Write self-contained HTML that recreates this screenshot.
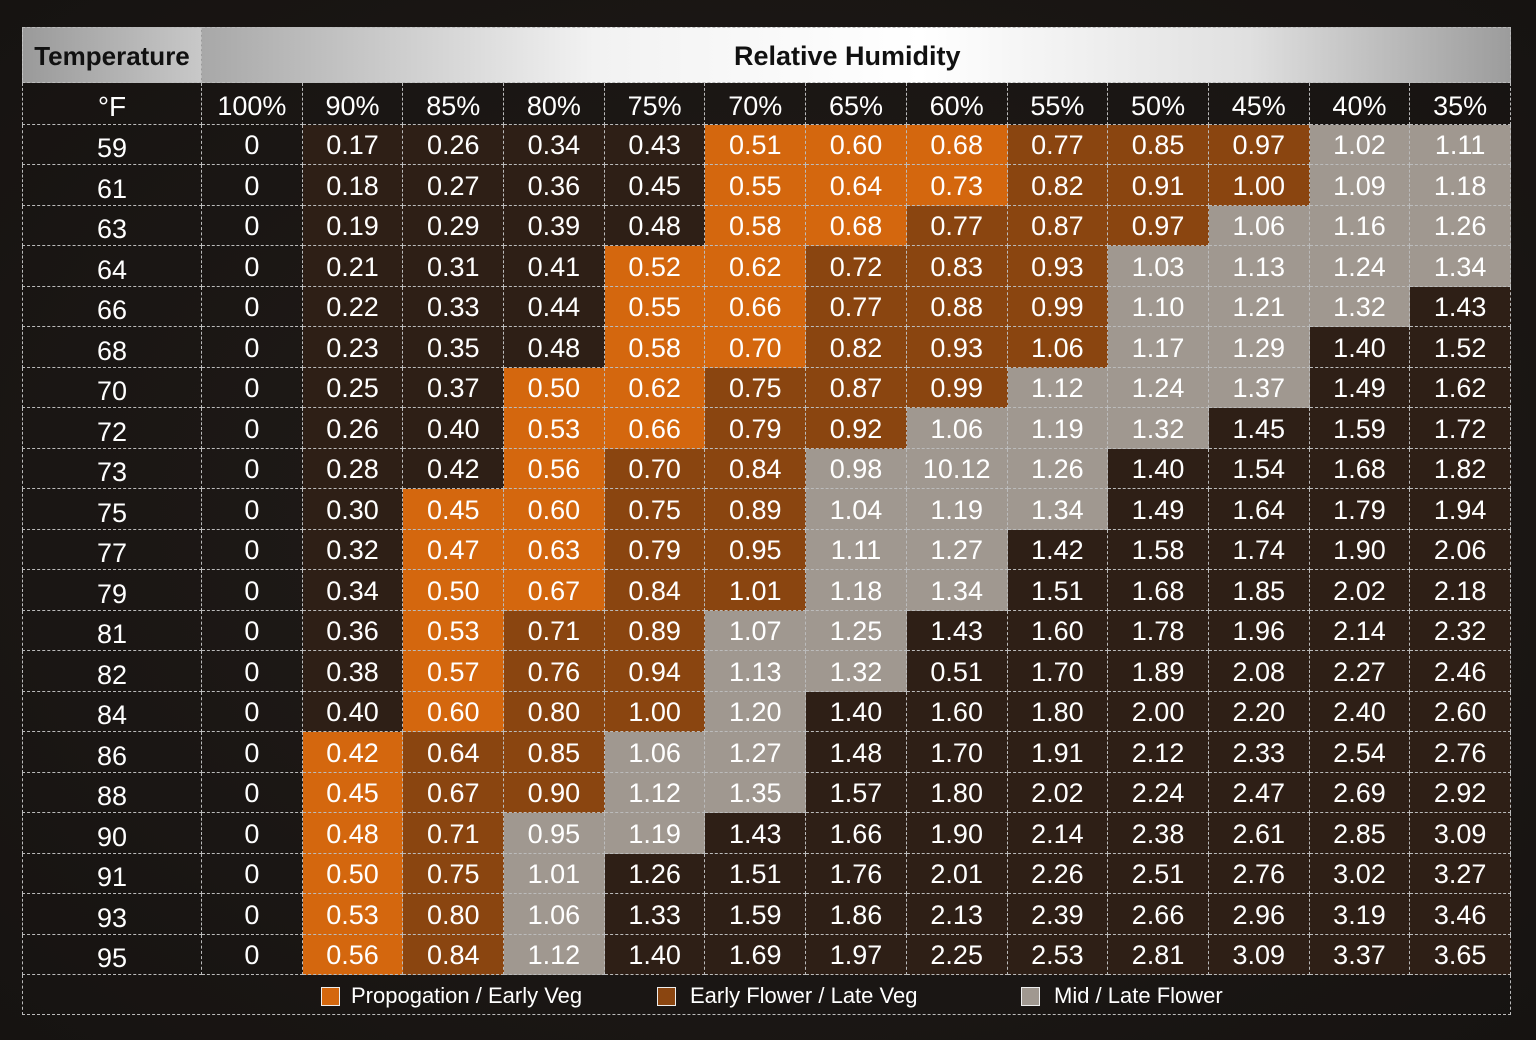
<!DOCTYPE html>
<html><head><meta charset="utf-8"><style>
body{margin:0;width:1536px;height:1040px;background:#1b1715;overflow:hidden;font-family:"Liberation Sans",sans-serif}
#wrap{position:absolute;left:0;top:0;width:1536px;height:1040px;background:radial-gradient(ellipse at 50% 50%,#221c19 0%,#161311 100%)}
.c{position:absolute;box-sizing:border-box;color:#fff;font-size:27px;display:flex;align-items:center;justify-content:center;border-right:1px dashed #bbb;border-bottom:1px dashed #bbb;padding-top:3px}
</style></head><body>
<div id="wrap">
<div class="c" style="left:22px;top:27px;width:180px;height:56px;background:linear-gradient(90deg,#9a9a9a,#c8c8c8);color:#111;font-weight:bold;font-size:26px;border-top:1px dashed #bbb;border-left:1px dashed #bbb">Temperature</div>
<div class="c" style="left:202px;top:27px;width:1309px;height:56px;background:linear-gradient(90deg,#a8a8a8 0%,#f2f2f2 30%,#ffffff 55%,#e0e0e0 80%,#9c9c9c 100%);color:#111;font-weight:bold;font-size:27px;border-top:1px dashed #bbb;padding-left:0;justify-content:flex-start"><span style="position:absolute;left:532px">Relative Humidity</span></div>
<div class="c" style="left:22px;top:975px;width:1489px;height:40px;border-left:1px dashed #bbb;justify-content:flex-start">
<span style="position:absolute;left:298px;font-size:22px;display:flex;align-items:center"><i style="display:inline-block;width:17px;height:17px;background:#d4670e;border:1px solid #eee;margin-right:11px"></i>Propogation / Early Veg</span>
<span style="position:absolute;left:634px;font-size:22px;display:flex;align-items:center"><i style="display:inline-block;width:17px;height:17px;background:#8a4510;border:1px solid #eee;margin-right:14px"></i>Early Flower / Late Veg</span>
<span style="position:absolute;left:998px;font-size:22px;display:flex;align-items:center"><i style="display:inline-block;width:17px;height:17px;background:#a09890;border:1px solid #eee;margin-right:14px"></i>Mid / Late Flower</span>
</div>
</div>
<script>
const humidity=["100%","90%","85%","80%","75%","70%","65%","60%","55%","50%","45%","40%","35%"];
const temps=["59","61","63","64","66","68","70","72","73","75","77","79","81","82","84","86","88","90","91","93","95"];
const values=[
["0","0.17","0.26","0.34","0.43","0.51","0.60","0.68","0.77","0.85","0.97","1.02","1.11"],
["0","0.18","0.27","0.36","0.45","0.55","0.64","0.73","0.82","0.91","1.00","1.09","1.18"],
["0","0.19","0.29","0.39","0.48","0.58","0.68","0.77","0.87","0.97","1.06","1.16","1.26"],
["0","0.21","0.31","0.41","0.52","0.62","0.72","0.83","0.93","1.03","1.13","1.24","1.34"],
["0","0.22","0.33","0.44","0.55","0.66","0.77","0.88","0.99","1.10","1.21","1.32","1.43"],
["0","0.23","0.35","0.48","0.58","0.70","0.82","0.93","1.06","1.17","1.29","1.40","1.52"],
["0","0.25","0.37","0.50","0.62","0.75","0.87","0.99","1.12","1.24","1.37","1.49","1.62"],
["0","0.26","0.40","0.53","0.66","0.79","0.92","1.06","1.19","1.32","1.45","1.59","1.72"],
["0","0.28","0.42","0.56","0.70","0.84","0.98","10.12","1.26","1.40","1.54","1.68","1.82"],
["0","0.30","0.45","0.60","0.75","0.89","1.04","1.19","1.34","1.49","1.64","1.79","1.94"],
["0","0.32","0.47","0.63","0.79","0.95","1.11","1.27","1.42","1.58","1.74","1.90","2.06"],
["0","0.34","0.50","0.67","0.84","1.01","1.18","1.34","1.51","1.68","1.85","2.02","2.18"],
["0","0.36","0.53","0.71","0.89","1.07","1.25","1.43","1.60","1.78","1.96","2.14","2.32"],
["0","0.38","0.57","0.76","0.94","1.13","1.32","0.51","1.70","1.89","2.08","2.27","2.46"],
["0","0.40","0.60","0.80","1.00","1.20","1.40","1.60","1.80","2.00","2.20","2.40","2.60"],
["0","0.42","0.64","0.85","1.06","1.27","1.48","1.70","1.91","2.12","2.33","2.54","2.76"],
["0","0.45","0.67","0.90","1.12","1.35","1.57","1.80","2.02","2.24","2.47","2.69","2.92"],
["0","0.48","0.71","0.95","1.19","1.43","1.66","1.90","2.14","2.38","2.61","2.85","3.09"],
["0","0.50","0.75","1.01","1.26","1.51","1.76","2.01","2.26","2.51","2.76","3.02","3.27"],
["0","0.53","0.80","1.06","1.33","1.59","1.86","2.13","2.39","2.66","2.96","3.19","3.46"],
["0","0.56","0.84","1.12","1.40","1.69","1.97","2.25","2.53","2.81","3.09","3.37","3.65"]];
const stages=["nddddooobbbgg","nddddooobbbgg","nddddoobbbggg","ndddoobbbgggg","ndddoobbbgggd","ndddoobbbggdd","nddoobbbgggdd","nddoobbgggddd","nddobbgggdddd","ndoobbgggdddd","ndoobbggddddd","ndoobbggddddd","ndobbggdddddd","ndobbggdddddd","ndobbgddddddd","nobbggddddddd","nobbggddddddd","nobggdddddddd","nobgddddddddd","nobgddddddddd","nobgddddddddd"];
const colors={n:"transparent",d:"#2e1f16",o:"#d4670e",b:"#8a4510",g:"#a09890"};
const W=document.getElementById('wrap');
const x0=202,cw=(1511-202)/13,yH=83,hh=41.5,y0=124.5,rh=(975-124.5)/21;
function colX(i){return x0+i*cw;}
function rowY(j){return y0+j*rh;}
function cell(x,y,w,h,txt,bg,extra){const d=document.createElement('div');d.className='c';d.style.cssText=`left:${x}px;top:${y}px;width:${w}px;height:${h}px;background:${bg};${extra||''}`;d.textContent=txt;W.appendChild(d);return d;}
let e=cell(22,yH,180,hh,"°F","transparent","border-left:1px dashed #bbb;font-size:28px;padding-top:8px");


humidity.forEach((h,i)=>{const d=cell(colX(i),yH,cw,hh,h,"transparent","font-size:27px;padding-top:6px");

});
temps.forEach((t,j)=>{const d=cell(22,rowY(j),180,rh,t,"transparent","border-left:1px dashed #bbb;padding-top:9px");


values[j].forEach((v,i)=>{const c=cell(colX(i),rowY(j),cw,rh,v,colors[stages[j][i]]);

});});
</script>
</body></html>
